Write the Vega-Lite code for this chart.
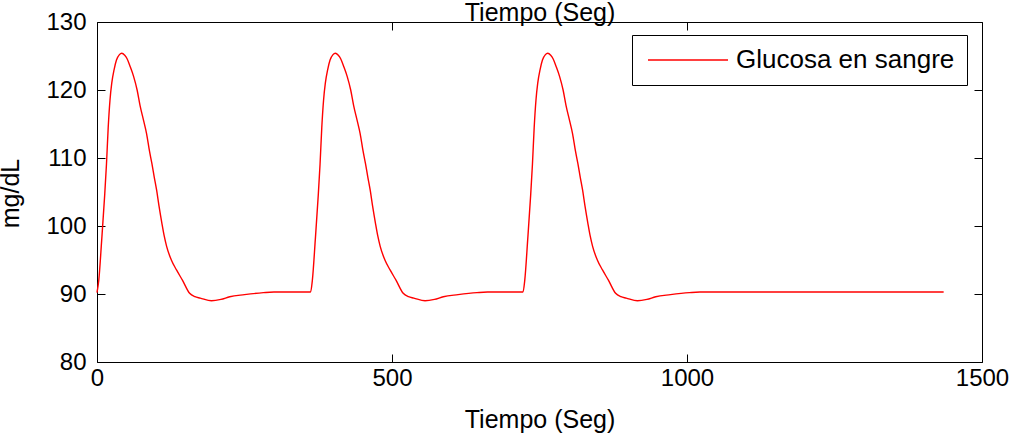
{
  "$schema": "https://vega.github.io/schema/vega-lite/v6.json",
  "width": 885,
  "height": 340,
  "autosize": {"type": "none"},
  "padding": {"left": 97, "top": 22, "right": 35, "bottom": 74},
  "background": "white",
  "config": {
    "view": {"stroke": null},
    "font": "Liberation Sans",
    "axis": {
      "grid": false,
      "domainColor": "#000",
      "domainWidth": 1,
      "tickColor": "#000",
      "tickSize": -8,
      "labelColor": "#000",
      "labelFont": "Liberation Sans",
      "labelFontSize": 24,
      "labelFlush": false,
      "labelOverlap": false,
      "format": "d",
      "titleFont": "Liberation Sans",
      "titleFontSize": 25,
      "titleFontWeight": "normal",
      "titleColor": "#000"
    }
  },
  "data": {
    "values": [
      {"t": 0, "g": 90.2, "serie": "Glucosa en sangre"},
      {"t": 3, "g": 92, "serie": "Glucosa en sangre"},
      {"t": 8, "g": 98, "serie": "Glucosa en sangre"},
      {"t": 13, "g": 104.5, "serie": "Glucosa en sangre"},
      {"t": 16, "g": 109, "serie": "Glucosa en sangre"},
      {"t": 19, "g": 114.5, "serie": "Glucosa en sangre"},
      {"t": 22, "g": 118.5, "serie": "Glucosa en sangre"},
      {"t": 25, "g": 121, "serie": "Glucosa en sangre"},
      {"t": 29, "g": 123, "serie": "Glucosa en sangre"},
      {"t": 33, "g": 124.4, "serie": "Glucosa en sangre"},
      {"t": 38, "g": 125.2, "serie": "Glucosa en sangre"},
      {"t": 42, "g": 125.4, "serie": "Glucosa en sangre"},
      {"t": 47, "g": 125.1, "serie": "Glucosa en sangre"},
      {"t": 51, "g": 124.6, "serie": "Glucosa en sangre"},
      {"t": 56, "g": 123.5, "serie": "Glucosa en sangre"},
      {"t": 62, "g": 122, "serie": "Glucosa en sangre"},
      {"t": 68, "g": 120, "serie": "Glucosa en sangre"},
      {"t": 73, "g": 117.7, "serie": "Glucosa en sangre"},
      {"t": 79, "g": 115.5, "serie": "Glucosa en sangre"},
      {"t": 84, "g": 113.6, "serie": "Glucosa en sangre"},
      {"t": 89, "g": 111, "serie": "Glucosa en sangre"},
      {"t": 93, "g": 109.2, "serie": "Glucosa en sangre"},
      {"t": 97, "g": 107.2, "serie": "Glucosa en sangre"},
      {"t": 101, "g": 105.3, "serie": "Glucosa en sangre"},
      {"t": 105, "g": 103, "serie": "Glucosa en sangre"},
      {"t": 110, "g": 100.4, "serie": "Glucosa en sangre"},
      {"t": 114, "g": 98.5, "serie": "Glucosa en sangre"},
      {"t": 118, "g": 97, "serie": "Glucosa en sangre"},
      {"t": 126, "g": 95, "serie": "Glucosa en sangre"},
      {"t": 135, "g": 93.5, "serie": "Glucosa en sangre"},
      {"t": 145, "g": 92, "serie": "Glucosa en sangre"},
      {"t": 157, "g": 90.1, "serie": "Glucosa en sangre"},
      {"t": 166, "g": 89.6, "serie": "Glucosa en sangre"},
      {"t": 175, "g": 89.4, "serie": "Glucosa en sangre"},
      {"t": 194, "g": 89.0, "serie": "Glucosa en sangre"},
      {"t": 210, "g": 89.2, "serie": "Glucosa en sangre"},
      {"t": 225, "g": 89.6, "serie": "Glucosa en sangre"},
      {"t": 250, "g": 89.9, "serie": "Glucosa en sangre"},
      {"t": 282, "g": 90.2, "serie": "Glucosa en sangre"},
      {"t": 300, "g": 90.3, "serie": "Glucosa en sangre"},
      {"t": 362, "g": 90.3, "serie": "Glucosa en sangre"},
      {"t": 365, "g": 92, "serie": "Glucosa en sangre"},
      {"t": 370, "g": 98, "serie": "Glucosa en sangre"},
      {"t": 375, "g": 104.5, "serie": "Glucosa en sangre"},
      {"t": 378, "g": 109, "serie": "Glucosa en sangre"},
      {"t": 381, "g": 114.5, "serie": "Glucosa en sangre"},
      {"t": 384, "g": 118.5, "serie": "Glucosa en sangre"},
      {"t": 387, "g": 121, "serie": "Glucosa en sangre"},
      {"t": 391, "g": 123, "serie": "Glucosa en sangre"},
      {"t": 395, "g": 124.4, "serie": "Glucosa en sangre"},
      {"t": 400, "g": 125.2, "serie": "Glucosa en sangre"},
      {"t": 404, "g": 125.4, "serie": "Glucosa en sangre"},
      {"t": 409, "g": 125.1, "serie": "Glucosa en sangre"},
      {"t": 413, "g": 124.6, "serie": "Glucosa en sangre"},
      {"t": 418, "g": 123.5, "serie": "Glucosa en sangre"},
      {"t": 424, "g": 122, "serie": "Glucosa en sangre"},
      {"t": 430, "g": 120, "serie": "Glucosa en sangre"},
      {"t": 435, "g": 117.7, "serie": "Glucosa en sangre"},
      {"t": 441, "g": 115.5, "serie": "Glucosa en sangre"},
      {"t": 446, "g": 113.6, "serie": "Glucosa en sangre"},
      {"t": 451, "g": 111, "serie": "Glucosa en sangre"},
      {"t": 455, "g": 109.2, "serie": "Glucosa en sangre"},
      {"t": 459, "g": 107.2, "serie": "Glucosa en sangre"},
      {"t": 463, "g": 105.3, "serie": "Glucosa en sangre"},
      {"t": 467, "g": 103, "serie": "Glucosa en sangre"},
      {"t": 472, "g": 100.4, "serie": "Glucosa en sangre"},
      {"t": 476, "g": 98.5, "serie": "Glucosa en sangre"},
      {"t": 480, "g": 97, "serie": "Glucosa en sangre"},
      {"t": 488, "g": 95, "serie": "Glucosa en sangre"},
      {"t": 497, "g": 93.5, "serie": "Glucosa en sangre"},
      {"t": 507, "g": 92, "serie": "Glucosa en sangre"},
      {"t": 519, "g": 90.1, "serie": "Glucosa en sangre"},
      {"t": 528, "g": 89.6, "serie": "Glucosa en sangre"},
      {"t": 537, "g": 89.4, "serie": "Glucosa en sangre"},
      {"t": 556, "g": 89.0, "serie": "Glucosa en sangre"},
      {"t": 572, "g": 89.2, "serie": "Glucosa en sangre"},
      {"t": 587, "g": 89.6, "serie": "Glucosa en sangre"},
      {"t": 612, "g": 89.9, "serie": "Glucosa en sangre"},
      {"t": 644, "g": 90.2, "serie": "Glucosa en sangre"},
      {"t": 662, "g": 90.3, "serie": "Glucosa en sangre"},
      {"t": 722, "g": 90.3, "serie": "Glucosa en sangre"},
      {"t": 725, "g": 92, "serie": "Glucosa en sangre"},
      {"t": 730, "g": 98, "serie": "Glucosa en sangre"},
      {"t": 735, "g": 104.5, "serie": "Glucosa en sangre"},
      {"t": 738, "g": 109, "serie": "Glucosa en sangre"},
      {"t": 741, "g": 114.5, "serie": "Glucosa en sangre"},
      {"t": 744, "g": 118.5, "serie": "Glucosa en sangre"},
      {"t": 747, "g": 121, "serie": "Glucosa en sangre"},
      {"t": 751, "g": 123, "serie": "Glucosa en sangre"},
      {"t": 755, "g": 124.4, "serie": "Glucosa en sangre"},
      {"t": 760, "g": 125.2, "serie": "Glucosa en sangre"},
      {"t": 764, "g": 125.4, "serie": "Glucosa en sangre"},
      {"t": 769, "g": 125.1, "serie": "Glucosa en sangre"},
      {"t": 773, "g": 124.6, "serie": "Glucosa en sangre"},
      {"t": 778, "g": 123.5, "serie": "Glucosa en sangre"},
      {"t": 784, "g": 122, "serie": "Glucosa en sangre"},
      {"t": 790, "g": 120, "serie": "Glucosa en sangre"},
      {"t": 795, "g": 117.7, "serie": "Glucosa en sangre"},
      {"t": 801, "g": 115.5, "serie": "Glucosa en sangre"},
      {"t": 806, "g": 113.6, "serie": "Glucosa en sangre"},
      {"t": 811, "g": 111, "serie": "Glucosa en sangre"},
      {"t": 815, "g": 109.2, "serie": "Glucosa en sangre"},
      {"t": 819, "g": 107.2, "serie": "Glucosa en sangre"},
      {"t": 823, "g": 105.3, "serie": "Glucosa en sangre"},
      {"t": 827, "g": 103, "serie": "Glucosa en sangre"},
      {"t": 832, "g": 100.4, "serie": "Glucosa en sangre"},
      {"t": 836, "g": 98.5, "serie": "Glucosa en sangre"},
      {"t": 840, "g": 97, "serie": "Glucosa en sangre"},
      {"t": 848, "g": 95, "serie": "Glucosa en sangre"},
      {"t": 857, "g": 93.5, "serie": "Glucosa en sangre"},
      {"t": 867, "g": 92, "serie": "Glucosa en sangre"},
      {"t": 879, "g": 90.1, "serie": "Glucosa en sangre"},
      {"t": 888, "g": 89.6, "serie": "Glucosa en sangre"},
      {"t": 897, "g": 89.4, "serie": "Glucosa en sangre"},
      {"t": 916, "g": 89.0, "serie": "Glucosa en sangre"},
      {"t": 932, "g": 89.2, "serie": "Glucosa en sangre"},
      {"t": 947, "g": 89.6, "serie": "Glucosa en sangre"},
      {"t": 972, "g": 89.9, "serie": "Glucosa en sangre"},
      {"t": 1004, "g": 90.2, "serie": "Glucosa en sangre"},
      {"t": 1022, "g": 90.3, "serie": "Glucosa en sangre"},
      {"t": 1435, "g": 90.3, "serie": "Glucosa en sangre"}
    ]
  },
  "layer": [
    {
      "mark": {"type": "line", "strokeWidth": 1.4, "interpolate": "monotone"},
      "encoding": {
        "x": {
          "field": "t", "type": "quantitative",
          "scale": {"domain": [0, 1500], "nice": false, "zero": false},
          "axis": {
            "orient": "bottom",
            "values": [0, 500, 1000, 1500],
            "labelPadding": 12,
            "title": "Tiempo (Seg)",
            "titleBaseline": "alphabetic",
            "titleY": 65
          }
        },
        "y": {
          "field": "g", "type": "quantitative",
          "scale": {"domain": [80, 130], "nice": false, "zero": false},
          "axis": {
            "orient": "left",
            "values": [80, 90, 100, 110, 120, 130],
            "labelPadding": 19,
            "title": "mg/dL",
            "titleAngle": -90,
            "titleBaseline": "bottom",
            "titleAlign": "center",
            "titleX": -74,
            "titleY": 171
          }
        },
        "color": {
          "field": "serie", "type": "nominal",
          "scale": {"range": ["#ff0000"]},
          "legend": {
            "title": null,
            "orient": "none",
            "legendX": 535,
            "legendY": 13,
            "symbolType": "M-4,0H4",
            "symbolSize": 400,
            "symbolStrokeWidth": 1.5,
            "symbolOffset": 31,
            "labelOffset": 35,
            "labelLimit": 400,
            "labelFontSize": 26,
            "labelFont": "Liberation Sans",
            "labelColor": "#000",
            "padding": 12,
            "strokeColor": "#000",
            "fillColor": "#fff"
          }
        }
      }
    },
    {
      "mark": {"type": "line", "strokeOpacity": 0},
      "encoding": {
        "x": {
          "field": "t", "type": "quantitative",
          "axis": {
            "orient": "top",
            "values": [0, 500, 1000, 1500],
            "labels": false,
            "title": "Tiempo (Seg)",
            "titleBaseline": "alphabetic",
            "titleY": -2
          }
        },
        "y": {
          "field": "g", "type": "quantitative",
          "axis": {
            "orient": "right",
            "values": [80, 90, 100, 110, 120, 130],
            "labels": false,
            "title": null
          }
        }
      }
    }
  ],
  "resolve": {"axis": {"x": "independent", "y": "independent"}}
}
